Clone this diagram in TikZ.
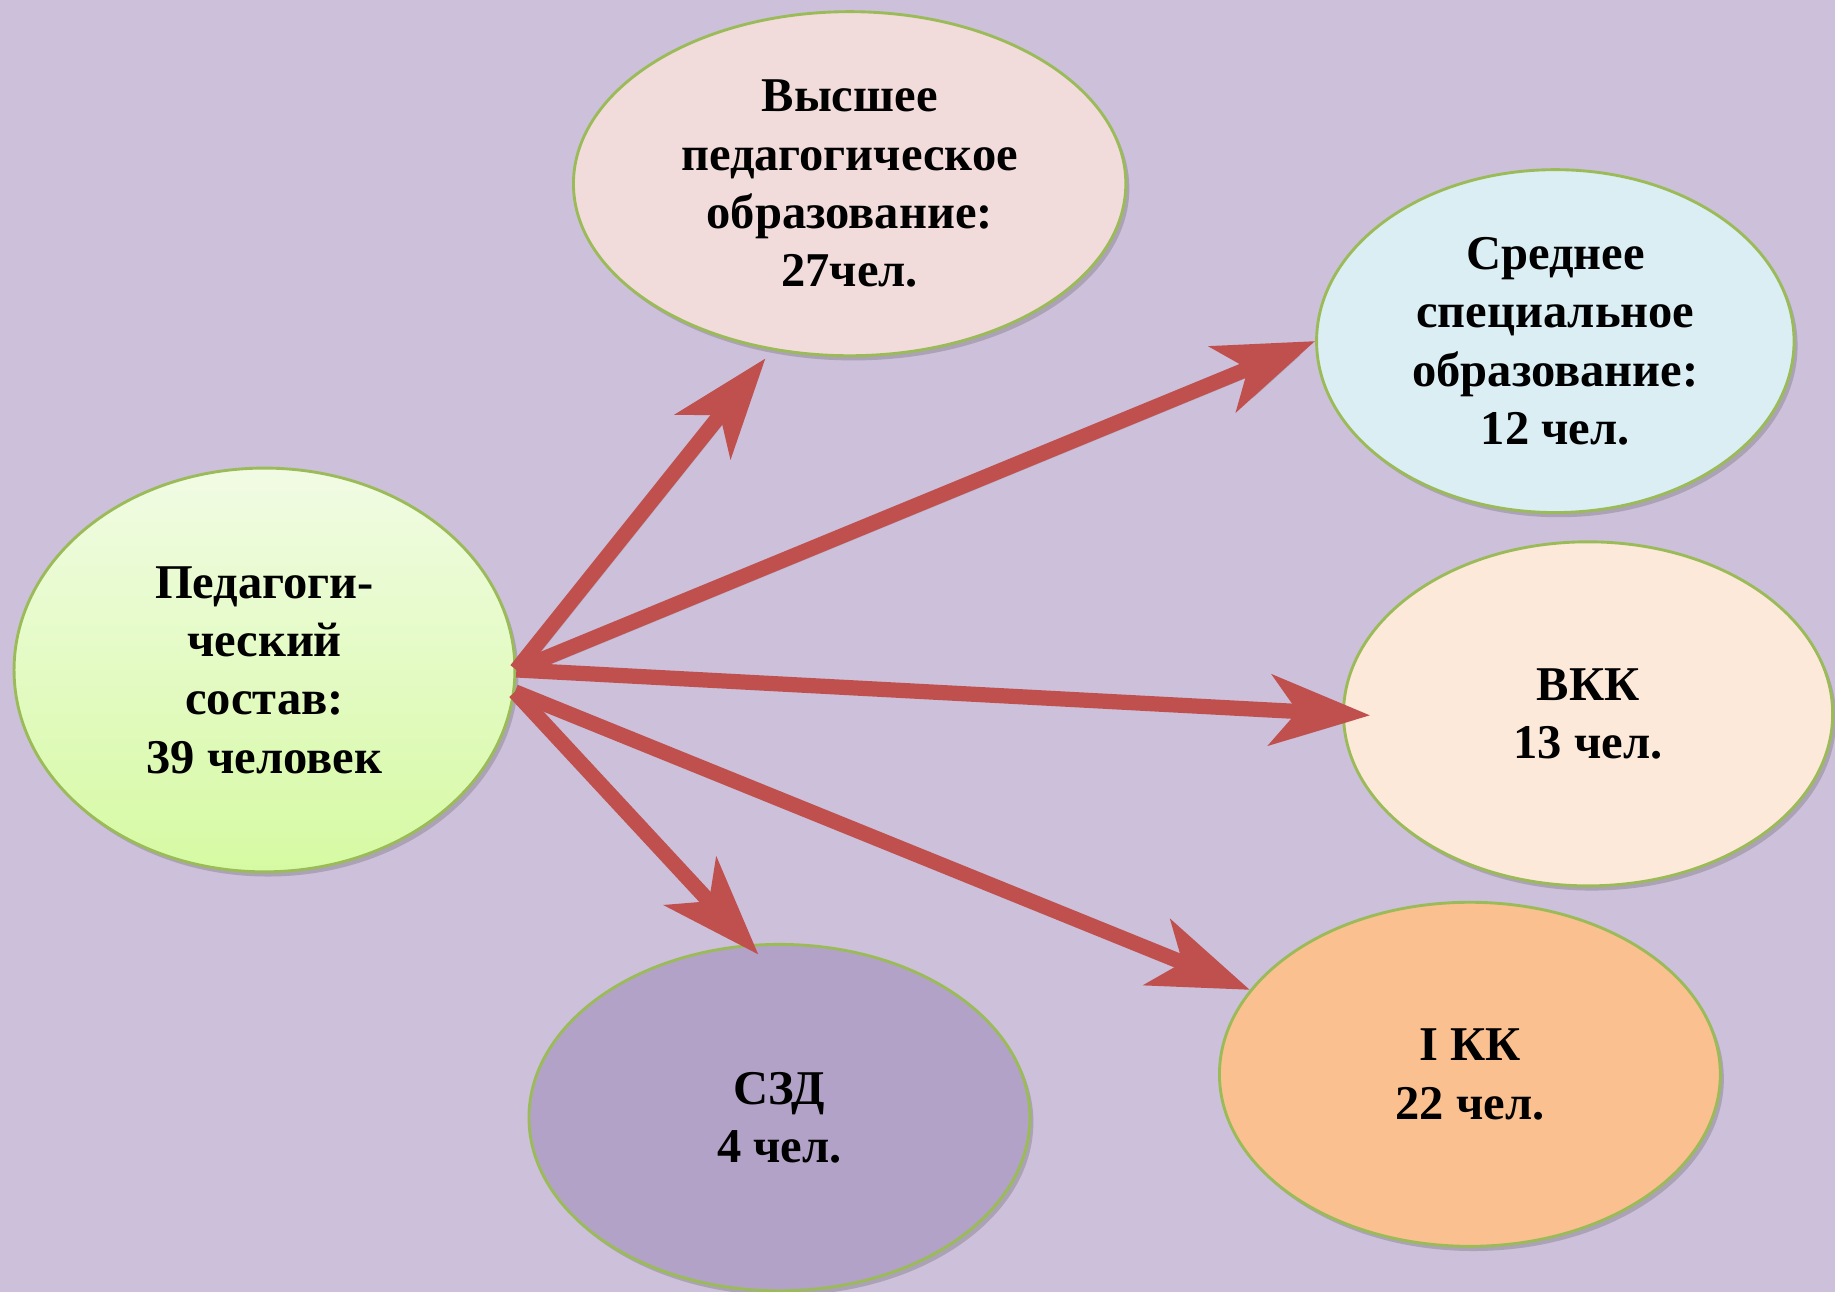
\documentclass[tikz,border=0pt]{standalone}
\usepackage{fontspec}
\setmainfont{Liberation Serif}
\usepackage{tikz}
\usetikzlibrary{arrows.meta,shadows,shapes.geometric}

\definecolor{lilac}{HTML}{CCC0DA}
\definecolor{arrred}{HTML}{C0504D}
\definecolor{rimgreen}{HTML}{9BBB59}
\definecolor{pinkfill}{HTML}{F2DCDB}
\definecolor{bluefill}{HTML}{DAEEF3}
\definecolor{peachfill}{HTML}{FDE9D9}
\definecolor{violetfill}{HTML}{B2A2C7}
\definecolor{orangefill}{HTML}{FAC090}
\definecolor{limetop}{HTML}{F1FBE4}
\definecolor{limebot}{HTML}{D6FAA3}

\tikzset{
  ell/.style={ellipse, draw=rimgreen, line width=0.7pt, inner sep=0pt, align=center,
    font=\bfseries\fontsize{11.8}{14.2}\selectfont,
    drop shadow={shadow xshift=0.3mm, shadow yshift=-0.4mm, opacity=0.25, fill=black!70}},
  arr/.style={draw=arrred, line width=3.7pt, -{Stealth[length=8.5mm, width=6mm, inset=2.3mm]},
    preaction={draw=black!60, opacity=0.25, transform canvas={xshift=0.4mm, yshift=-0.5mm}}}
}

\begin{document}
\begin{tikzpicture}
  \fill[lilac] (0,0) rectangle (15.68,11.04);
  \useasboundingbox (0,0) rectangle (15.68,11.04);

    \draw (2.26,5.315) node[ell, top color=limetop, bottom color=limebot,
          minimum width=4.28cm, minimum height=3.45cm] (ped) {Педагоги-\\ческий\\состав:\\39 человек};
    \draw (7.26,9.47) node[ell, fill=pinkfill, minimum width=4.72cm, minimum height=2.94cm] (vysh)
          {Высшее\\педагогическое\\образование:\\27чел.};
  \draw (13.29,8.125) node[ell, fill=bluefill, minimum width=4.08cm, minimum height=2.93cm] (sred)
          {Среднее\\специальное\\образование:\\12 чел.};
  \draw (13.57,4.94) node[ell, fill=peachfill, minimum width=4.18cm, minimum height=2.94cm] (vkk)
          {ВКК\\13 чел.};
    \draw (6.66,1.49) node[ell, fill=violetfill, minimum width=4.28cm, minimum height=2.96cm] (szd)
          {СЗД\\4 чел.};
    \draw (12.56,1.86) node[ell, fill=orangefill, minimum width=4.28cm, minimum height=2.94cm] (ikk)
          {I КК\\22 чел.};

      \draw[arr, shorten >=0.9mm] (ped.east) -- (vysh.-115);
      \draw[arr] (ped.east) -- (sred.west);
      \draw[arr, shorten >=-2.4mm] (ped.east) -- (vkk.west);
      \draw[arr, shorten >=-1.2mm] (ped.-5) -- (szd.100);
      \draw[arr] (ped.-5) -- (ikk.159);

\end{tikzpicture}
\end{document}
